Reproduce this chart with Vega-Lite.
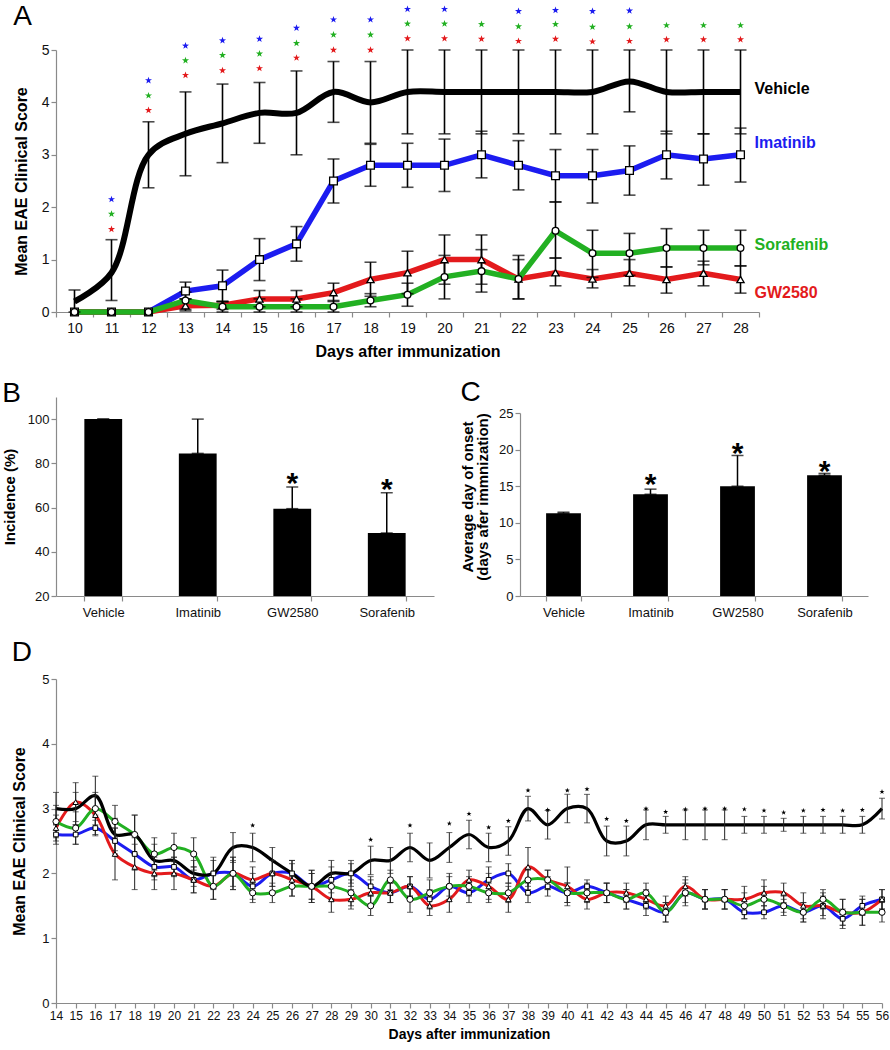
{
"$schema":"https://vega.github.io/schema/vega-lite/v6.json",
"padding":{"left":2,"top":3,"right":2,"bottom":1},
"config":{
 "font":"Liberation Sans",
 "view":{"stroke":null},
 "axis":{"domainColor":"#8a8a8a","tickColor":"#8a8a8a","labelColor":"#111","titleColor":"#000","grid":false,"tickSize":5,"domainWidth":1.2,"tickWidth":1.2,"titleFontWeight":"bold"},
 "title":{"fontWeight":"normal","fontSize":28,"anchor":"start","frame":"bounds","color":"#000"}
},
"resolve":{"scale":{"color":"independent","shape":"independent","size":"independent"}},
"spacing":20,
"datasets":{
"a":[
{"day":10,"s":"Vehicle","v":0.2,"lo":0,"hi":0.42},
{"day":11,"s":"Vehicle","v":0.75,"lo":0.22,"hi":1.38},
{"day":12,"s":"Vehicle","v":3.0,"lo":2.37,"hi":3.63},
{"day":13,"s":"Vehicle","v":3.4,"lo":2.6,"hi":4.2},
{"day":14,"s":"Vehicle","v":3.6,"lo":2.85,"hi":4.35},
{"day":15,"s":"Vehicle","v":3.8,"lo":3.22,"hi":4.38},
{"day":16,"s":"Vehicle","v":3.8,"lo":3.0,"hi":4.6},
{"day":17,"s":"Vehicle","v":4.2,"lo":3.62,"hi":4.78},
{"day":18,"s":"Vehicle","v":4.0,"lo":3.22,"hi":4.78},
{"day":19,"s":"Vehicle","v":4.2,"lo":3.4,"hi":5.0},
{"day":20,"s":"Vehicle","v":4.2,"lo":3.4,"hi":5.0},
{"day":21,"s":"Vehicle","v":4.2,"lo":3.4,"hi":5.0},
{"day":22,"s":"Vehicle","v":4.2,"lo":3.4,"hi":5.0},
{"day":23,"s":"Vehicle","v":4.2,"lo":3.4,"hi":5.0},
{"day":24,"s":"Vehicle","v":4.2,"lo":3.4,"hi":5.0},
{"day":25,"s":"Vehicle","v":4.4,"lo":3.82,"hi":5.0},
{"day":26,"s":"Vehicle","v":4.2,"lo":3.4,"hi":5.0},
{"day":27,"s":"Vehicle","v":4.2,"lo":3.4,"hi":5.0},
{"day":28,"s":"Vehicle","v":4.2,"lo":3.4,"hi":5.0},
{"day":10,"s":"Imatinib","v":0},
{"day":11,"s":"Imatinib","v":0},
{"day":12,"s":"Imatinib","v":0},
{"day":13,"s":"Imatinib","v":0.4,"lo":0.25,"hi":0.57},
{"day":14,"s":"Imatinib","v":0.5,"lo":0.2,"hi":0.8},
{"day":15,"s":"Imatinib","v":1.0,"lo":0.6,"hi":1.4},
{"day":16,"s":"Imatinib","v":1.3,"lo":0.97,"hi":1.63},
{"day":17,"s":"Imatinib","v":2.5,"lo":2.08,"hi":2.92},
{"day":18,"s":"Imatinib","v":2.8,"lo":2.4,"hi":3.2},
{"day":19,"s":"Imatinib","v":2.8,"lo":2.38,"hi":3.22},
{"day":20,"s":"Imatinib","v":2.8,"lo":2.3,"hi":3.3},
{"day":21,"s":"Imatinib","v":3.0,"lo":2.56,"hi":3.45},
{"day":22,"s":"Imatinib","v":2.8,"lo":2.33,"hi":3.27},
{"day":23,"s":"Imatinib","v":2.6,"lo":2.1,"hi":3.1},
{"day":24,"s":"Imatinib","v":2.6,"lo":2.08,"hi":3.1},
{"day":25,"s":"Imatinib","v":2.7,"lo":2.23,"hi":3.17},
{"day":26,"s":"Imatinib","v":3.0,"lo":2.54,"hi":3.45},
{"day":27,"s":"Imatinib","v":2.92,"lo":2.42,"hi":3.4},
{"day":28,"s":"Imatinib","v":3.0,"lo":2.48,"hi":3.51},
{"day":10,"s":"GW2580","v":0},
{"day":11,"s":"GW2580","v":0},
{"day":12,"s":"GW2580","v":0},
{"day":13,"s":"GW2580","v":0.12,"lo":0.02,"hi":0.25},
{"day":14,"s":"GW2580","v":0.13,"lo":0.05,"hi":0.2},
{"day":15,"s":"GW2580","v":0.25,"lo":0.1,"hi":0.41},
{"day":16,"s":"GW2580","v":0.25,"lo":0.1,"hi":0.41},
{"day":17,"s":"GW2580","v":0.37,"lo":0.2,"hi":0.55},
{"day":18,"s":"GW2580","v":0.62,"lo":0.3,"hi":0.95},
{"day":19,"s":"GW2580","v":0.75,"lo":0.35,"hi":1.16},
{"day":20,"s":"GW2580","v":1.0,"lo":0.53,"hi":1.47},
{"day":21,"s":"GW2580","v":1.0,"lo":0.53,"hi":1.47},
{"day":22,"s":"GW2580","v":0.63,"lo":0.25,"hi":1.0},
{"day":23,"s":"GW2580","v":0.75,"lo":0.5,"hi":1.03},
{"day":24,"s":"GW2580","v":0.63,"lo":0.46,"hi":0.81},
{"day":25,"s":"GW2580","v":0.74,"lo":0.5,"hi":1.0},
{"day":26,"s":"GW2580","v":0.62,"lo":0.36,"hi":0.86},
{"day":27,"s":"GW2580","v":0.74,"lo":0.5,"hi":0.97},
{"day":28,"s":"GW2580","v":0.62,"lo":0.36,"hi":0.88},
{"day":10,"s":"Sorafenib","v":0},
{"day":11,"s":"Sorafenib","v":0},
{"day":12,"s":"Sorafenib","v":0},
{"day":13,"s":"Sorafenib","v":0.22,"lo":0.05,"hi":0.38},
{"day":14,"s":"Sorafenib","v":0.1,"lo":0.0,"hi":0.2},
{"day":15,"s":"Sorafenib","v":0.1,"lo":0.0,"hi":0.25},
{"day":16,"s":"Sorafenib","v":0.1,"lo":0.0,"hi":0.25},
{"day":17,"s":"Sorafenib","v":0.1,"lo":0.0,"hi":0.22},
{"day":18,"s":"Sorafenib","v":0.22,"lo":0.1,"hi":0.35},
{"day":19,"s":"Sorafenib","v":0.33,"lo":0.11,"hi":0.55},
{"day":20,"s":"Sorafenib","v":0.67,"lo":0.25,"hi":1.08},
{"day":21,"s":"Sorafenib","v":0.78,"lo":0.38,"hi":1.19},
{"day":22,"s":"Sorafenib","v":0.63,"lo":0.25,"hi":1.08},
{"day":23,"s":"Sorafenib","v":1.55,"lo":1.03,"hi":2.1},
{"day":24,"s":"Sorafenib","v":1.12,"lo":0.66,"hi":1.56},
{"day":25,"s":"Sorafenib","v":1.12,"lo":0.7,"hi":1.5},
{"day":26,"s":"Sorafenib","v":1.22,"lo":0.86,"hi":1.59},
{"day":27,"s":"Sorafenib","v":1.22,"lo":0.9,"hi":1.56},
{"day":28,"s":"Sorafenib","v":1.22,"lo":0.88,"hi":1.56}
],
"astars":[
{"day":11,"s":"Imatinib","v":2.15},{"day":11,"s":"Sorafenib","v":1.87},{"day":11,"s":"GW2580","v":1.58},
{"day":12,"s":"Imatinib","v":4.42},{"day":12,"s":"Sorafenib","v":4.13},{"day":12,"s":"GW2580","v":3.85},
{"day":13,"s":"Imatinib","v":5.08},{"day":13,"s":"Sorafenib","v":4.8},{"day":13,"s":"GW2580","v":4.52},
{"day":14,"s":"Imatinib","v":5.18},{"day":14,"s":"Sorafenib","v":4.9},{"day":14,"s":"GW2580","v":4.61},
{"day":15,"s":"Imatinib","v":5.21},{"day":15,"s":"Sorafenib","v":4.93},{"day":15,"s":"GW2580","v":4.65},
{"day":16,"s":"Imatinib","v":5.42},{"day":16,"s":"Sorafenib","v":5.13},{"day":16,"s":"GW2580","v":4.85},
{"day":17,"s":"Imatinib","v":5.58},{"day":17,"s":"Sorafenib","v":5.29},{"day":17,"s":"GW2580","v":5.0},
{"day":18,"s":"Imatinib","v":5.58},{"day":18,"s":"Sorafenib","v":5.29},{"day":18,"s":"GW2580","v":5.0},
{"day":19,"s":"Imatinib","v":5.78},{"day":19,"s":"Sorafenib","v":5.5},{"day":19,"s":"GW2580","v":5.22},
{"day":20,"s":"Imatinib","v":5.78},{"day":20,"s":"Sorafenib","v":5.5},{"day":20,"s":"GW2580","v":5.22},
{"day":21,"s":"Sorafenib","v":5.49},{"day":21,"s":"GW2580","v":5.21},
{"day":22,"s":"Imatinib","v":5.74},{"day":22,"s":"Sorafenib","v":5.45},{"day":22,"s":"GW2580","v":5.17},
{"day":23,"s":"Imatinib","v":5.76},{"day":23,"s":"Sorafenib","v":5.49},{"day":23,"s":"GW2580","v":5.21},
{"day":24,"s":"Imatinib","v":5.74},{"day":24,"s":"Sorafenib","v":5.44},{"day":24,"s":"GW2580","v":5.16},
{"day":25,"s":"Imatinib","v":5.75},{"day":25,"s":"Sorafenib","v":5.45},{"day":25,"s":"GW2580","v":5.17},
{"day":26,"s":"Sorafenib","v":5.47},{"day":26,"s":"GW2580","v":5.2},
{"day":27,"s":"Sorafenib","v":5.47},{"day":27,"s":"GW2580","v":5.2},
{"day":28,"s":"Sorafenib","v":5.47},{"day":28,"s":"GW2580","v":5.2}
],
"alabels":[
{"day":28,"s":"Vehicle","v":4.25},
{"day":28,"s":"Imatinib","v":3.22},
{"day":28,"s":"Sorafenib","v":1.27},
{"day":28,"s":"GW2580","v":0.37}
],
"b":[
{"g":"Vehicle","v":100,"hi":100},
{"g":"Imatinib","v":84.5,"hi":100},
{"g":"GW2580","v":59.5,"hi":69.3,"star":73.7},
{"g":"Sorafenib","v":48.5,"hi":66.7,"star":71}
],
"c":[
{"g":"Vehicle","v":11.3,"hi":11.45},
{"g":"Imatinib","v":13.9,"hi":14.6,"star":16.1},
{"g":"GW2580","v":15.0,"hi":19.2,"star":20.3},
{"g":"Sorafenib","v":16.5,"hi":16.75,"star":17.9}
],
"d":[
{"day":14,"s":"Vehicle","v":3.0,"e":0.25},{"day":15,"s":"Vehicle","v":3.0,"e":0.25},{"day":16,"s":"Vehicle","v":3.2,"e":0.3},{"day":17,"s":"Vehicle","v":2.6,"e":0.25},{"day":18,"s":"Vehicle","v":2.6,"e":0.3},{"day":19,"s":"Vehicle","v":2.2,"e":0.25},{"day":20,"s":"Vehicle","v":2.2,"e":0.2},{"day":21,"s":"Vehicle","v":2.0,"e":0.2},{"day":22,"s":"Vehicle","v":2.0,"e":0.25},{"day":23,"s":"Vehicle","v":2.4,"e":0.23},{"day":24,"s":"Vehicle","v":2.4,"e":0.22},{"day":25,"s":"Vehicle","v":2.2,"e":0.2},{"day":26,"s":"Vehicle","v":2.0,"e":0.2},{"day":27,"s":"Vehicle","v":1.8,"e":0.25},{"day":28,"s":"Vehicle","v":2.0,"e":0.2},{"day":29,"s":"Vehicle","v":2.0,"e":0.2},{"day":30,"s":"Vehicle","v":2.2,"e":0.22},{"day":31,"s":"Vehicle","v":2.2,"e":0.2},{"day":32,"s":"Vehicle","v":2.4,"e":0.22},{"day":33,"s":"Vehicle","v":2.2,"e":0.27},{"day":34,"s":"Vehicle","v":2.4,"e":0.23},{"day":35,"s":"Vehicle","v":2.6,"e":0.22},{"day":36,"s":"Vehicle","v":2.4,"e":0.22},{"day":37,"s":"Vehicle","v":2.5,"e":0.22},{"day":38,"s":"Vehicle","v":3.0,"e":0.19},{"day":39,"s":"Vehicle","v":2.75,"e":0.22},{"day":40,"s":"Vehicle","v":3.0,"e":0.22},{"day":41,"s":"Vehicle","v":3.0,"e":0.22},{"day":42,"s":"Vehicle","v":2.5,"e":0.23},{"day":43,"s":"Vehicle","v":2.5,"e":0.23},{"day":44,"s":"Vehicle","v":2.75,"e":0.23},{"day":45,"s":"Vehicle","v":2.75,"e":0.13},{"day":46,"s":"Vehicle","v":2.75,"e":0.23},{"day":47,"s":"Vehicle","v":2.75,"e":0.23},{"day":48,"s":"Vehicle","v":2.75,"e":0.23},{"day":49,"s":"Vehicle","v":2.75,"e":0.13},{"day":50,"s":"Vehicle","v":2.75,"e":0.13},{"day":51,"s":"Vehicle","v":2.75,"e":0.1},{"day":52,"s":"Vehicle","v":2.75,"e":0.13},{"day":53,"s":"Vehicle","v":2.75,"e":0.13},{"day":54,"s":"Vehicle","v":2.75,"e":0.13},{"day":55,"s":"Vehicle","v":2.75,"e":0.13},{"day":56,"s":"Vehicle","v":3.0,"e":0.16},
{"day":14,"s":"Imatinib","v":2.6,"e":0.15},{"day":15,"s":"Imatinib","v":2.6,"e":0.15},{"day":16,"s":"Imatinib","v":2.7,"e":0.12},{"day":17,"s":"Imatinib","v":2.5,"e":0.2},{"day":18,"s":"Imatinib","v":2.3,"e":0.25},{"day":19,"s":"Imatinib","v":2.1,"e":0.2},{"day":20,"s":"Imatinib","v":2.1,"e":0.15},{"day":21,"s":"Imatinib","v":1.9,"e":0.2},{"day":22,"s":"Imatinib","v":2.0,"e":0.2},{"day":23,"s":"Imatinib","v":2.0,"e":0.2},{"day":24,"s":"Imatinib","v":1.8,"e":0.2},{"day":25,"s":"Imatinib","v":2.0,"e":0.2},{"day":26,"s":"Imatinib","v":2.0,"e":0.2},{"day":27,"s":"Imatinib","v":1.8,"e":0.2},{"day":28,"s":"Imatinib","v":1.9,"e":0.2},{"day":29,"s":"Imatinib","v":2.0,"e":0.15},{"day":30,"s":"Imatinib","v":1.8,"e":0.15},{"day":31,"s":"Imatinib","v":1.7,"e":0.15},{"day":32,"s":"Imatinib","v":1.8,"e":0.15},{"day":33,"s":"Imatinib","v":1.6,"e":0.15},{"day":34,"s":"Imatinib","v":1.8,"e":0.15},{"day":35,"s":"Imatinib","v":1.7,"e":0.15},{"day":36,"s":"Imatinib","v":1.9,"e":0.2},{"day":37,"s":"Imatinib","v":2.0,"e":0.15},{"day":38,"s":"Imatinib","v":1.7,"e":0.15},{"day":39,"s":"Imatinib","v":1.8,"e":0.15},{"day":40,"s":"Imatinib","v":1.7,"e":0.15},{"day":41,"s":"Imatinib","v":1.8,"e":0.1},{"day":42,"s":"Imatinib","v":1.7,"e":0.15},{"day":43,"s":"Imatinib","v":1.6,"e":0.15},{"day":44,"s":"Imatinib","v":1.5,"e":0.15},{"day":45,"s":"Imatinib","v":1.4,"e":0.15},{"day":46,"s":"Imatinib","v":1.7,"e":0.15},{"day":47,"s":"Imatinib","v":1.6,"e":0.15},{"day":48,"s":"Imatinib","v":1.6,"e":0.15},{"day":49,"s":"Imatinib","v":1.4,"e":0.1},{"day":50,"s":"Imatinib","v":1.4,"e":0.1},{"day":51,"s":"Imatinib","v":1.5,"e":0.1},{"day":52,"s":"Imatinib","v":1.4,"e":0.15},{"day":53,"s":"Imatinib","v":1.5,"e":0.15},{"day":54,"s":"Imatinib","v":1.3,"e":0.15},{"day":55,"s":"Imatinib","v":1.5,"e":0.15},{"day":56,"s":"Imatinib","v":1.6,"e":0.15},
{"day":14,"s":"GW2580","v":2.7,"e":0.2},{"day":15,"s":"GW2580","v":3.1,"e":0.3},{"day":16,"s":"GW2580","v":2.9,"e":0.3},{"day":17,"s":"GW2580","v":2.3,"e":0.4},{"day":18,"s":"GW2580","v":2.1,"e":0.35},{"day":19,"s":"GW2580","v":2.0,"e":0.25},{"day":20,"s":"GW2580","v":2.0,"e":0.25},{"day":21,"s":"GW2580","v":1.9,"e":0.2},{"day":22,"s":"GW2580","v":1.8,"e":0.2},{"day":23,"s":"GW2580","v":2.0,"e":0.25},{"day":24,"s":"GW2580","v":1.9,"e":0.2},{"day":25,"s":"GW2580","v":2.0,"e":0.2},{"day":26,"s":"GW2580","v":1.9,"e":0.25},{"day":27,"s":"GW2580","v":1.8,"e":0.25},{"day":28,"s":"GW2580","v":1.6,"e":0.2},{"day":29,"s":"GW2580","v":1.6,"e":0.15},{"day":30,"s":"GW2580","v":1.7,"e":0.2},{"day":31,"s":"GW2580","v":1.7,"e":0.15},{"day":32,"s":"GW2580","v":1.8,"e":0.15},{"day":33,"s":"GW2580","v":1.5,"e":0.15},{"day":34,"s":"GW2580","v":1.6,"e":0.2},{"day":35,"s":"GW2580","v":1.9,"e":0.15},{"day":36,"s":"GW2580","v":1.8,"e":0.2},{"day":37,"s":"GW2580","v":1.6,"e":0.2},{"day":38,"s":"GW2580","v":2.1,"e":0.3},{"day":39,"s":"GW2580","v":1.9,"e":0.15},{"day":40,"s":"GW2580","v":1.8,"e":0.3},{"day":41,"s":"GW2580","v":1.6,"e":0.15},{"day":42,"s":"GW2580","v":1.7,"e":0.15},{"day":43,"s":"GW2580","v":1.7,"e":0.15},{"day":44,"s":"GW2580","v":1.6,"e":0.15},{"day":45,"s":"GW2580","v":1.5,"e":0.15},{"day":46,"s":"GW2580","v":1.8,"e":0.15},{"day":47,"s":"GW2580","v":1.6,"e":0.15},{"day":48,"s":"GW2580","v":1.6,"e":0.15},{"day":49,"s":"GW2580","v":1.6,"e":0.2},{"day":50,"s":"GW2580","v":1.7,"e":0.2},{"day":51,"s":"GW2580","v":1.7,"e":0.15},{"day":52,"s":"GW2580","v":1.5,"e":0.2},{"day":53,"s":"GW2580","v":1.5,"e":0.2},{"day":54,"s":"GW2580","v":1.4,"e":0.2},{"day":55,"s":"GW2580","v":1.4,"e":0.2},{"day":56,"s":"GW2580","v":1.6,"e":0.15},
{"day":14,"s":"Sorafenib","v":2.8,"e":0.25},{"day":15,"s":"Sorafenib","v":2.7,"e":0.25},{"day":16,"s":"Sorafenib","v":3.0,"e":0.25},{"day":17,"s":"Sorafenib","v":2.8,"e":0.25},{"day":18,"s":"Sorafenib","v":2.6,"e":0.3},{"day":19,"s":"Sorafenib","v":2.3,"e":0.25},{"day":20,"s":"Sorafenib","v":2.4,"e":0.22},{"day":21,"s":"Sorafenib","v":2.3,"e":0.25},{"day":22,"s":"Sorafenib","v":1.8,"e":0.2},{"day":23,"s":"Sorafenib","v":2.0,"e":0.25},{"day":24,"s":"Sorafenib","v":1.7,"e":0.15},{"day":25,"s":"Sorafenib","v":1.7,"e":0.15},{"day":26,"s":"Sorafenib","v":1.8,"e":0.15},{"day":27,"s":"Sorafenib","v":1.8,"e":0.2},{"day":28,"s":"Sorafenib","v":1.8,"e":0.2},{"day":29,"s":"Sorafenib","v":1.7,"e":0.2},{"day":30,"s":"Sorafenib","v":1.5,"e":0.15},{"day":31,"s":"Sorafenib","v":1.9,"e":0.15},{"day":32,"s":"Sorafenib","v":1.6,"e":0.2},{"day":33,"s":"Sorafenib","v":1.7,"e":0.2},{"day":34,"s":"Sorafenib","v":1.8,"e":0.2},{"day":35,"s":"Sorafenib","v":1.8,"e":0.15},{"day":36,"s":"Sorafenib","v":1.7,"e":0.15},{"day":37,"s":"Sorafenib","v":1.7,"e":0.15},{"day":38,"s":"Sorafenib","v":1.9,"e":0.15},{"day":39,"s":"Sorafenib","v":1.9,"e":0.15},{"day":40,"s":"Sorafenib","v":1.7,"e":0.15},{"day":41,"s":"Sorafenib","v":1.7,"e":0.15},{"day":42,"s":"Sorafenib","v":1.7,"e":0.15},{"day":43,"s":"Sorafenib","v":1.6,"e":0.15},{"day":44,"s":"Sorafenib","v":1.7,"e":0.15},{"day":45,"s":"Sorafenib","v":1.4,"e":0.15},{"day":46,"s":"Sorafenib","v":1.7,"e":0.2},{"day":47,"s":"Sorafenib","v":1.6,"e":0.15},{"day":48,"s":"Sorafenib","v":1.6,"e":0.15},{"day":49,"s":"Sorafenib","v":1.5,"e":0.2},{"day":50,"s":"Sorafenib","v":1.6,"e":0.2},{"day":51,"s":"Sorafenib","v":1.5,"e":0.15},{"day":52,"s":"Sorafenib","v":1.4,"e":0.15},{"day":53,"s":"Sorafenib","v":1.6,"e":0.15},{"day":54,"s":"Sorafenib","v":1.4,"e":0.2},{"day":55,"s":"Sorafenib","v":1.4,"e":0.2},{"day":56,"s":"Sorafenib","v":1.4,"e":0.15}
],
"dstars":[
{"day":24,"v":2.74},{"day":30,"v":2.52},{"day":32,"v":2.74},{"day":34,"v":2.77},{"day":35,"v":2.92},{"day":36,"v":2.71},{"day":37,"v":2.81},{"day":38,"v":3.28},{"day":39,"v":2.98},{"day":40,"v":3.28},{"day":41,"v":3.3},{"day":42,"v":2.84},{"day":43,"v":2.81},{"day":44,"v":3.0},{"day":45,"v":2.95},{"day":46,"v":2.99},{"day":47,"v":3.0},{"day":48,"v":3.0},{"day":49,"v":2.99},{"day":50,"v":2.97},{"day":51,"v":2.94},{"day":52,"v":2.97},{"day":53,"v":2.98},{"day":54,"v":2.97},{"day":55,"v":2.98},{"day":56,"v":3.26}
]
},
"vconcat":[
{
 "width":703,"height":262,
 "title":{"text":"A","offset":-26},
 "encoding":{"x":{"field":"day","type":"ordinal","scale":{"type":"band","paddingInner":0,"paddingOuter":0},"axis":{"title":"Days after immunization","labelAngle":0,"tickBand":"extent","labelFontSize":14,"titleFontSize":16,"titlePadding":8,"labelPadding":4}}},
 "layer":[
  {"data":{"name":"a"},"transform":[{"filter":"datum.s != 'Vehicle'"}],
   "mark":{"type":"line","strokeWidth":5.5},
   "encoding":{"y":{"field":"v","type":"quantitative","scale":{"domain":[0,5]},"axis":{"title":"Mean EAE Clinical Score","values":[0,1,2,3,4,5],"labelFontSize":14,"titleFontSize":16,"titlePadding":12}},
    "color":{"field":"s","type":"nominal","scale":{"domain":["Vehicle","Imatinib","GW2580","Sorafenib"],"range":["#000000","#1c1cf0","#e31a1c","#22b022"]},"legend":null}}},
  {"data":{"name":"a"},"transform":[{"filter":"datum.s == 'Vehicle'"}],
   "mark":{"type":"line","strokeWidth":6,"interpolate":"catmull-rom","color":"#000"},
   "encoding":{"y":{"field":"v","type":"quantitative","scale":{"domain":[0,5]},"axis":{"title":"Mean EAE Clinical Score","values":[0,1,2,3,4,5],"labelFontSize":14,"titleFontSize":16,"titlePadding":12}}}},
  {"data":{"name":"a"},"transform":[{"filter":"isValid(datum.lo)"}],
   "mark":{"type":"errorbar","color":"#000","thickness":1.6,"ticks":{"size":12,"thickness":1.6}},
   "encoding":{"y":{"field":"lo","type":"quantitative","scale":{"domain":[0,5]},"axis":{"title":"Mean EAE Clinical Score","values":[0,1,2,3,4,5],"labelFontSize":14,"titleFontSize":16,"titlePadding":12}},"y2":{"field":"hi"}}},
  {"data":{"name":"a"},"transform":[{"filter":"datum.s != 'Vehicle'"}],
   "mark":{"type":"point","filled":true,"fill":"#fff","stroke":"#000","strokeWidth":1.3,"opacity":1},
   "encoding":{"y":{"field":"v","type":"quantitative","scale":{"domain":[0,5]},"axis":{"title":"Mean EAE Clinical Score","values":[0,1,2,3,4,5],"labelFontSize":14,"titleFontSize":16,"titlePadding":12}},
    "shape":{"field":"s","type":"nominal","scale":{"domain":["Imatinib","GW2580","Sorafenib"],"range":["square","triangle-up","circle"]},"legend":null},
    "size":{"field":"s","type":"nominal","scale":{"domain":["Imatinib","GW2580","Sorafenib"],"range":[60,45,40]},"legend":null}}},
  {"data":{"name":"astars"},
   "mark":{"type":"point","shape":"M0,-1L0.235,-0.324L0.951,-0.309L0.38,0.124L0.588,0.809L0,0.4L-0.588,0.809L-0.38,0.124L-0.951,-0.309L-0.235,-0.324Z","filled":true,"size":55,"opacity":1},
   "encoding":{"y":{"field":"v","type":"quantitative","scale":{"domain":[0,5]},"axis":{"title":"Mean EAE Clinical Score","values":[0,1,2,3,4,5],"labelFontSize":14,"titleFontSize":16,"titlePadding":12}},
    "color":{"field":"s","type":"nominal","scale":{"domain":["Vehicle","Imatinib","GW2580","Sorafenib"],"range":["#000000","#1c1cf0","#e31a1c","#22b022"]},"legend":null}}},
  {"data":{"name":"alabels"},
   "mark":{"type":"text","align":"left","dx":14,"fontSize":16,"fontWeight":"bold"},
   "encoding":{"y":{"field":"v","type":"quantitative","scale":{"domain":[0,5]},"axis":{"title":"Mean EAE Clinical Score","values":[0,1,2,3,4,5],"labelFontSize":14,"titleFontSize":16,"titlePadding":12}},"text":{"field":"s"},
    "color":{"field":"s","type":"nominal","scale":{"domain":["Vehicle","Imatinib","GW2580","Sorafenib"],"range":["#000000","#1c1cf0","#e31a1c","#22b022"]},"legend":null}}}
 ]
},
{
 "align":"none",
 "hconcat":[
  {
   "width":378,"height":199,
   "title":{"text":"B","offset":-11},
   "data":{"name":"b"},
   "encoding":{"x":{"field":"g","type":"nominal","sort":null,"scale":{"paddingInner":0.6,"paddingOuter":0.3},"axis":{"title":null,"labelAngle":0,"tickBand":"extent","labelFontSize":13,"labelPadding":5}}},
   "layer":[
    {"mark":{"type":"bar","color":"#000","clip":true},
     "encoding":{"y":{"field":"v","type":"quantitative","scale":{"domain":[20,110],"nice":false},"axis":{"title":"Incidence (%)","values":[20,40,60,80,100],"labelFontSize":13,"titleFontSize":15,"titlePadding":10}}}},
    {"mark":{"type":"errorbar","color":"#000","thickness":1.5,"ticks":{"size":12,"thickness":1.5}},
     "encoding":{"y":{"field":"v","type":"quantitative","scale":{"domain":[20,110],"nice":false},"axis":{"title":"Incidence (%)","values":[20,40,60,80,100],"labelFontSize":13,"titleFontSize":15,"titlePadding":10}},"y2":{"field":"hi"}}},
    {"transform":[{"filter":"isValid(datum.star)"}],
     "mark":{"type":"text","text":"*","fontSize":30,"fontWeight":"bold","baseline":"middle","dy":7},
     "encoding":{"y":{"field":"star","type":"quantitative","scale":{"domain":[20,110],"nice":false},"axis":{"title":"Incidence (%)","values":[20,40,60,80,100],"labelFontSize":13,"titleFontSize":15,"titlePadding":10}}}}
   ]
  },
  {
   "width":348,"height":199,
   "title":{"text":"C","offset":-10},
   "data":{"name":"c"},
   "encoding":{"x":{"field":"g","type":"nominal","sort":null,"scale":{"paddingInner":0.6,"paddingOuter":0.3},"axis":{"title":null,"labelAngle":0,"tickBand":"extent","labelFontSize":13,"labelPadding":5}}},
   "layer":[
    {"mark":{"type":"bar","color":"#000"},
     "encoding":{"y":{"field":"v","type":"quantitative","scale":{"domain":[0,27.19],"nice":false},"axis":{"title":["Average day of onset","(days afer immnization)"],"values":[0,5,10,15,20,25],"domainDash":[183,60],"labelFontSize":13,"titleFontSize":15,"titlePadding":8,"titleLineHeight":15}}}},
    {"mark":{"type":"errorbar","color":"#000","thickness":1.5,"ticks":{"size":12,"thickness":1.5}},
     "encoding":{"y":{"field":"v","type":"quantitative","scale":{"domain":[0,27.19],"nice":false},"axis":{"title":["Average day of onset","(days afer immnization)"],"values":[0,5,10,15,20,25],"domainDash":[183,60],"labelFontSize":13,"titleFontSize":15,"titlePadding":8,"titleLineHeight":15}},"y2":{"field":"hi"}}},
    {"transform":[{"filter":"isValid(datum.star)"}],
     "mark":{"type":"text","text":"*","fontSize":30,"fontWeight":"bold","baseline":"middle","dy":7},
     "encoding":{"y":{"field":"star","type":"quantitative","scale":{"domain":[0,27.19],"nice":false},"axis":{"title":["Average day of onset","(days afer immnization)"],"values":[0,5,10,15,20,25],"domainDash":[183,60],"labelFontSize":13,"titleFontSize":15,"titlePadding":8,"titleLineHeight":15}}}}
   ]
  }
 ],
 "spacing":26
},
{
 "width":826,"height":324,
 "title":{"text":"D","offset":6},
 "encoding":{"x":{"field":"day","type":"quantitative","scale":{"domain":[14,56],"nice":false,"zero":false},"axis":{"title":"Days after immunization","values":[14,15,16,17,18,19,20,21,22,23,24,25,26,27,28,29,30,31,32,33,34,35,36,37,38,39,40,41,42,43,44,45,46,47,48,49,50,51,52,53,54,55,56],"labelFontSize":12,"titleFontSize":14,"titlePadding":6,"labelFlush":false,"labelOverlap":false}}},
 "layer":[
  {"data":{"name":"d"},"transform":[{"filter":"datum.s != 'Vehicle'"}],
   "mark":{"type":"line","strokeWidth":3,"interpolate":"catmull-rom"},
   "encoding":{"y":{"field":"v","type":"quantitative","scale":{"domain":[0,5]},"axis":{"title":"Mean EAE Clinical Score","values":[0,1,2,3,4,5],"labelFontSize":13,"titleFontSize":16,"titlePadding":14}},
    "color":{"field":"s","type":"nominal","scale":{"domain":["Vehicle","Imatinib","GW2580","Sorafenib"],"range":["#000000","#1c1cf0","#e31a1c","#22b022"]},"legend":null}}},
  {"data":{"name":"d"},"transform":[{"filter":"datum.s == 'Vehicle'"}],
   "mark":{"type":"line","strokeWidth":3.2,"interpolate":"catmull-rom","color":"#000"},
   "encoding":{"y":{"field":"v","type":"quantitative","scale":{"domain":[0,5]},"axis":{"title":"Mean EAE Clinical Score","values":[0,1,2,3,4,5],"labelFontSize":13,"titleFontSize":16,"titlePadding":14}}}},
  {"data":{"name":"d"},
   "mark":{"type":"errorbar","color":"#222","thickness":1,"ticks":{"size":6,"thickness":1}},
   "encoding":{"y":{"field":"v","type":"quantitative","scale":{"domain":[0,5]},"axis":{"title":"Mean EAE Clinical Score","values":[0,1,2,3,4,5],"labelFontSize":13,"titleFontSize":16,"titlePadding":14}},"yError":{"field":"e"}}},
  {"data":{"name":"d"},"transform":[{"filter":"datum.s != 'Vehicle'"}],
   "mark":{"type":"point","filled":true,"fill":"#fff","stroke":"#000","strokeWidth":1,"opacity":1},
   "encoding":{"y":{"field":"v","type":"quantitative","scale":{"domain":[0,5]},"axis":{"title":"Mean EAE Clinical Score","values":[0,1,2,3,4,5],"labelFontSize":13,"titleFontSize":16,"titlePadding":14}},
    "shape":{"field":"s","type":"nominal","scale":{"domain":["Imatinib","GW2580","Sorafenib"],"range":["square","triangle-up","circle"]},"legend":null},
    "size":{"field":"s","type":"nominal","scale":{"domain":["Imatinib","GW2580","Sorafenib"],"range":[22,38,36]},"legend":null}}},
  {"data":{"name":"dstars"},
   "mark":{"type":"point","shape":"M0,-1L0.235,-0.324L0.951,-0.309L0.38,0.124L0.588,0.809L0,0.4L-0.588,0.809L-0.38,0.124L-0.951,-0.309L-0.235,-0.324Z","filled":true,"size":28,"opacity":1,"color":"#000"},
   "encoding":{"y":{"field":"v","type":"quantitative","scale":{"domain":[0,5]},"axis":{"title":"Mean EAE Clinical Score","values":[0,1,2,3,4,5],"labelFontSize":13,"titleFontSize":16,"titlePadding":14}}}}
 ]
}
]
}
